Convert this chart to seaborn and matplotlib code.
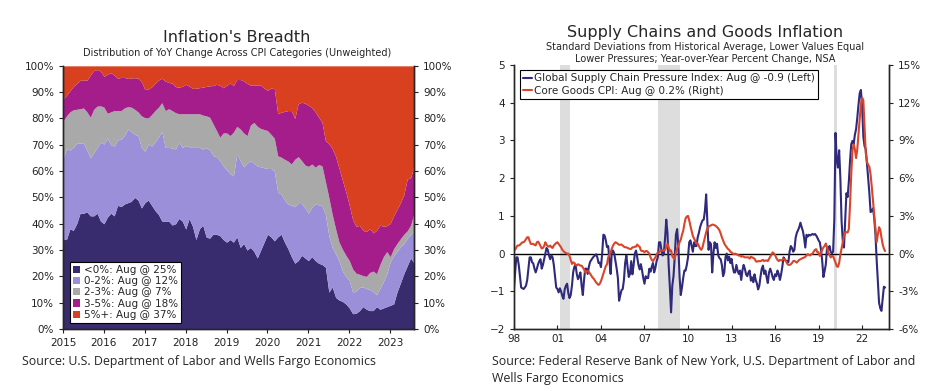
import numpy as np
import pandas as pd
import seaborn as sns
import matplotlib.pyplot as plt
from matplotlib.patches import Patch
from matplotlib.lines import Line2D
from matplotlib.ticker import FuncFormatter

# ---- Inflation's Breadth: cumulative share of CPI categories (Jan 2015 - Aug 2023)
pct_below_0 = [
    34, 34, 38, 37.5, 40, 44, 44, 44.5, 43, 43, 44, 41,
    40, 42.5, 44, 43, 47, 46.5, 47.5, 48, 48.5, 50, 49, 46,
    48, 49, 47, 45, 43.5, 41, 41, 41, 39.5, 40, 42, 41,
    38, 42, 39, 34, 38, 39.5, 35, 34.5, 36, 36, 35.5, 34,
    33, 34, 33, 35, 31, 32.5, 30, 31, 29.5, 27, 30, 33,
    36, 35, 33.5, 35, 36, 33, 30.5, 27.5, 25, 26, 28, 27,
    26, 27.5, 26, 25, 24.5, 23.5, 14, 16, 12, 11, 10.5, 9.5,
    8, 5.8, 6, 7, 8.5, 7.5, 7, 7, 8.5, 7.5, 8, 8.5,
    9, 9.5, 14, 17.5, 21, 24, 27, 25,
]
pct_below_2 = [
    65, 68.4, 68, 69, 70.6, 70.6, 70.6, 68, 65, 67, 69, 71,
    70.3, 72.5, 70, 69.5, 71.8, 72.2, 73.5, 76, 75, 74, 73.5, 69,
    67.5, 70.3, 69.5, 71, 73, 75, 69, 69, 68.8, 68.4, 71, 69,
    69.7, 69.3, 69, 69, 69, 68.4, 68.8, 68.2, 65.9, 65.5, 64, 62,
    60.5, 59, 58.2, 66.5, 64, 61.6, 63, 64, 63, 62, 61.6, 61.3,
    61, 61, 60, 52, 51.3, 49, 47.5, 47, 46.5, 47.7, 47.7, 46,
    44, 46.3, 47.5, 47.2, 46.8, 43.5, 35.5, 31, 28.5, 25.8, 22, 20,
    18.4, 14, 14.5, 15.8, 16, 15.4, 15, 14.2, 13, 15.5, 18, 21,
    25.5, 27.8, 29.5, 31.2, 32.5, 34.5, 36, 37,
]
pct_below_3 = [
    79, 81, 82.5, 83.3, 83.5, 83.7, 84, 82.5, 80.5, 83.5, 84.7, 84.8,
    84.3, 82, 82.5, 83, 83, 83, 84, 84.5, 84.3, 83.5, 82.5, 81,
    80.3, 80.2, 81.5, 83, 84.3, 86, 83, 83.7, 83, 82.2, 81.8, 81.8,
    81.8, 81.8, 81.8, 81.8, 81.8, 81.3, 81, 80.5, 78, 75.5, 72.9, 74.5,
    74.5, 73.5, 74.8, 77, 76, 74.5, 73.5, 77.5, 78.5, 77, 76.2, 75.8,
    75.4, 74, 72.5, 65.8, 65.3, 64.5, 63.8, 62.7, 64.5, 65.5, 64, 62.3,
    61.8, 62.7, 61.5, 62.5, 62, 56, 50, 43.5, 38, 33, 30.3, 28,
    26, 22.8, 21.2, 20.8, 20.3, 20, 21.5, 22, 21, 24.5, 27.5, 29.4,
    27.5, 30.5, 32.5, 34.3, 36, 37.3, 39.5, 44,
]
pct_below_5 = [
    87.5, 88.8, 90.5, 92.2, 93.3, 94.5, 94.7, 94.5, 96.5, 98.2, 98.6, 98,
    96, 96.8, 97.4, 96.5, 95.3, 95.6, 95.6, 95.2, 95.4, 95.5, 95.3, 94,
    91, 91.2, 92, 93.4, 94.6, 95.3, 94.2, 93.7, 93.4, 92.1, 91.9, 92.2,
    93, 92.3, 91.4, 91.5, 91.7, 91.9, 92.2, 92.4, 92.5, 93, 92.6, 91.7,
    92.6, 93.5, 92.5, 94.8, 94.8, 94.3, 93.3, 92.7, 92.6, 92.8, 92.6, 91.5,
    90.7, 91.6, 91.3, 81.8, 82.4, 82.7, 83, 83, 80, 85.6, 86.2, 85.8,
    85, 84.2, 82.5, 80.5, 78.5, 71.5, 70.5, 68.5, 65.5, 61, 56.5, 52,
    47, 41.5, 39, 39.4, 37.5, 37, 38.2, 36.5, 37.5, 39.5, 39, 39.3,
    40.1, 43, 45.5, 48, 51, 57, 57.5, 62,
]
breadth_labels = ['<0%: Aug @ 25%', '0-2%: Aug @ 12%', '2-3%: Aug @ 7%',
                  '3-5%: Aug @ 18%', '5%+: Aug @ 37%']

# ---- Supply chains: monthly, Jan 1998 - Aug 2023
gscpi = [
    -0.95, -0.5, -0.1, -0.1, -0.3, -0.6, -0.9, -0.92, -0.94, -0.9, -0.85, -0.7,
    -0.4, -0.1, -0.1, -0.23, -0.26, -0.4, -0.5, -0.4, -0.28, -0.2, -0.15, -0.4,
    -0.3, -0.15, 0.0, 0.15, 0.1, -0.05, -0.15, -0.05, -0.1, -0.3, -0.6, -0.9,
    -0.94, -1.03, -0.92, -1.0, -1.12, -1.2, -0.95, -0.85, -0.8, -1.05, -1.18, -1.1,
    -0.85, -0.5, -0.35, -0.3, -0.54, -0.68, -0.6, -0.5, -0.85, -1.1, -0.7, -0.4,
    -0.4, -0.54, -0.35, -0.22, -0.17, -0.12, -0.08, -0.05, -0.02, -0.1, -0.25, -0.24,
    -0.36, 0.0, 0.5, 0.48, 0.35, 0.17, 0.2, -0.19, -0.54, 0.08, 0.08, 0.0,
    -0.2, -0.4, -0.65, -1.25, -1.1, -0.97, -0.94, -0.7, -0.25, -0.05, -0.35, -0.62,
    -0.54, -0.2, -0.55, -0.3, 0.0, 0.08, -0.1, -0.3, -0.42, -0.28, -0.45, -0.65,
    -0.8, -0.6, -0.65, -0.65, -0.4, -0.48, -0.35, -0.25, -0.5, -0.38, -0.2, -0.1,
    0.3, 0.3, 0.1, -0.05, 0.0, 0.4, 0.9, 0.55, -0.3, -0.9, -1.56, -0.85,
    -0.6, -0.1, 0.5, 0.65, 0.2, -0.6, -1.1, -0.9, -0.65, -0.45, -0.45, -0.3,
    -0.1, 0.3, 0.35, 0.2, 0.05, 0.3, 0.2, 0.2, 0.43, 0.55, 0.7, 0.8,
    0.88, 0.9, 1.14, 1.57, 0.8, 0.1, 0.3, 0.25, -0.5, 0.0, 0.3, 0.15,
    0.26, -0.05, -0.12, -0.15, -0.3, -0.6, -0.5, -0.1, 0.0, -0.18, -0.08, -0.25,
    -0.14, -0.35, -0.5, -0.5, -0.3, -0.45, -0.54, -0.45, -0.7, -0.45, -0.3, -0.4,
    -0.55, -0.6, -0.5, -0.45, -0.72, -0.63, -0.76, -0.55, -0.7, -0.8, -0.95, -0.85,
    -0.6, -0.4, -0.32, -0.54, -0.45, -0.63, -0.78, -0.5, -0.4, -0.5, -0.63, -0.7,
    -0.55, -0.6, -0.45, -0.54, -0.7, -0.55, -0.35, -0.1, -0.15, -0.19, -0.2, -0.23,
    0.05, 0.2, 0.15, 0.05, 0.1, 0.42, 0.55, 0.62, 0.7, 0.82, 0.7, 0.6,
    0.42, 0.16, 0.5, 0.45, 0.5, 0.48, 0.5, 0.52, 0.5, 0.52, 0.48, 0.42,
    0.35, 0.3, 0.1, -0.2, -0.62, -0.46, -0.28, 0.16, 0.1, 0.2, 0.05, 0.0,
    0.05, 0.9, 3.2, 2.5, 2.28, 2.74, 2.0, 0.87, 0.34, 0.16, 0.9, 1.6,
    1.5, 1.9, 2.45, 2.9, 2.99, 2.9, 3.15, 3.3, 3.6, 3.95, 4.25, 4.34,
    3.9, 3.1, 2.85, 2.77, 2.4, 2.0, 1.6, 1.1, 1.13, 1.2, 0.95, 0.52,
    -0.15, -0.75, -1.3, -1.45, -1.52, -1.2, -0.88, -0.9,
]
core_goods = [
    0.37, 0.3, 0.5, 0.64, 0.64, 0.7, 0.8, 0.9, 0.9, 1.0, 1.15, 1.3,
    1.3, 1.0, 0.77, 0.77, 0.77, 0.7, 0.65, 0.9, 0.95, 0.8, 0.6, 0.4,
    0.45, 0.6, 0.9, 0.7, 0.6, 0.55, 0.64, 0.5, 0.45, 0.64, 0.75, 0.85,
    0.9, 0.77, 0.64, 0.5, 0.3, 0.2, 0.1, 0.05, 0.0, 0.0, -0.2, -0.5,
    -0.82, -0.7, -0.75, -0.9, -0.95, -0.85, -0.9, -0.96, -0.96, -1.1, -1.25, -1.5,
    -1.4, -1.4, -1.45, -1.6, -1.75, -1.9, -2.0, -2.15, -2.3, -2.4, -2.5, -2.4,
    -2.2, -1.9, -1.6, -1.3, -1.0, -0.85, -0.3, -0.1, 0.1, 0.4, 0.64, 0.8,
    0.9, 0.85, 0.77, 0.7, 0.7, 0.72, 0.64, 0.55, 0.5, 0.5, 0.45, 0.4,
    0.37, 0.37, 0.5, 0.5, 0.55, 0.55, 0.72, 0.6, 0.55, 0.25, 0.2, 0.2,
    0.1, 0.2, 0.2, 0.1, 0.0, -0.3, -0.5, -0.6, -0.45, -0.3, -0.1, 0.1,
    0.1, 0.2, 0.25, 0.25, 0.22, 0.3, 0.5, 0.77, 0.5, 0.2, 0.25, -0.2,
    -0.35, -0.42, 0.1, 0.4, 0.6, 0.9, 1.1, 1.5, 1.8, 2.36, 2.8, 2.95,
    3.0, 2.65, 2.2, 1.8, 1.4, 1.2, 1.0, 0.8, 0.8, 0.6, 0.4, 0.3,
    0.5, 0.9, 1.3, 1.7, 2.0, 2.15, 2.2, 2.25, 2.3, 2.3, 2.25, 2.2,
    2.1, 2.0, 1.85, 1.6, 1.3, 1.05, 0.8, 0.64, 0.5, 0.37, 0.3, 0.15,
    0.1, 0.0, -0.05, 0.0, -0.05, -0.1, -0.16, -0.16, -0.25, -0.2, -0.25, -0.3,
    -0.3, -0.3, -0.3, -0.4, -0.25, -0.3, -0.35, -0.4, -0.6, -0.65, -0.6, -0.6,
    -0.6, -0.55, -0.5, -0.6, -0.55, -0.55, -0.6, -0.42, -0.25, -0.1, 0.1, 0.0,
    -0.1, -0.35, -0.5, -0.6, -0.5, -0.55, -0.5, -0.4, -0.5, -0.6, -0.8, -0.9,
    -0.9, -0.85, -0.75, -0.6, -0.58, -0.65, -0.72, -0.6, -0.5, -0.45, -0.4, -0.35,
    -0.32, -0.25, -0.15, -0.05, -0.1, -0.15, -0.05, 0.0, 0.16, 0.3, 0.35, 0.1,
    0.1, -0.19, 0.05, 0.3, 0.5, 0.6, 0.8, 0.5, 0.1, -0.1, -0.3, -0.2,
    -0.2, -0.45, -0.72, -1.0, -1.06, -0.75, -0.1, 0.4, 0.9, 1.4, 1.7, 1.7,
    1.67, 1.94, 3.9, 6.3, 8.2, 8.7, 8.3, 7.6, 8.3, 9.5, 10.7, 11.9,
    12.4, 12.2, 10.0, 8.0, 7.3, 7.06, 6.9, 6.3, 5.3, 4.2, 3.1, 2.1,
    0.9, 1.5, 2.1, 1.9, 1.27, 0.74, 0.4, 0.2,
]
recessions = [(2001.17, 2001.84), (2007.95, 2009.43), (2020.07, 2020.25)]
supply_labels = ['Global Supply Chain Pressure Index: Aug @ -0.9 (Left)',
                 'Core Goods CPI: Aug @ 0.2% (Right)']

c_dark, c_light, c_gray, c_mag, c_red = '#392c6e', '#9c8fd9', '#a9a9a9', '#a51d8a', '#d8401f'
c_line_blue, c_line_red = '#2f2a7c', '#d9452a'

sns.set_style('ticks')
plt.rcParams['font.family'] = ['DejaVu Sans']
plt.rcParams['axes.linewidth'] = 1.0

fig = plt.figure(figsize=(9.31, 3.91), dpi=100)

# ---------------- left chart
ax1 = fig.add_axes([0.0677, 0.1586, 0.377, 0.673])
x_left = 2015 + np.arange(len(pct_below_0)) / 12
b0, b2, b3, b5 = (np.array(v) for v in (pct_below_0, pct_below_2, pct_below_3, pct_below_5))
layers = [(0 * b0, b0), (b0, b2), (b2, b3), (b3, b5), (b5, 100 + 0 * b5)]
cols = [c_dark, c_light, c_gray, c_mag, c_red]
for (lo, hi), c in zip(layers, cols):
    ax1.fill_between(x_left, lo, hi, color=c, lw=0)
ax1.set_xlim(2015, x_left[-1])
ax1.set_ylim(0, 100)
ax1.set_xticks(range(2015, 2024))
ax1.set_yticks(range(0, 101, 10))
pct_fmt = FuncFormatter(lambda v, p: f'{v:.0f}%')
ax1.yaxis.set_major_formatter(pct_fmt)
ax1.tick_params(labelsize=7.5, length=3, colors='#222222')
ax1r = ax1.twinx()
ax1r.set_ylim(0, 100)
ax1r.set_yticks(range(0, 101, 10))
ax1r.yaxis.set_major_formatter(pct_fmt)
ax1r.tick_params(labelsize=7.5, length=3, colors='#222222')
for a in (ax1, ax1r):
    a.spines['top'].set_visible(False)
handles = [Patch(facecolor=c, edgecolor='none') for c in cols]
leg = ax1.legend(handles, breadth_labels, loc='lower left', bbox_to_anchor=(0.02, 0.023),
                 fontsize=7.5, frameon=True, fancybox=False, edgecolor='black', framealpha=1,
                 handlelength=0.7, handleheight=0.7, handletextpad=0.3, labelspacing=0.12,
                 borderpad=0.3, borderaxespad=0)
leg.get_frame().set_linewidth(0.8)

# ---------------- right chart
ax2 = fig.add_axes([0.552, 0.1586, 0.403, 0.675])
x_right = 1998 + np.arange(len(gscpi)) / 12
df = pd.DataFrame({'date': x_right, 'gscpi': gscpi, 'core': core_goods})
for s, e in recessions:
    ax2.axvspan(s, e, color='#dddddd', lw=0, zorder=0)
ax2.axhline(0, color='black', lw=1)
sns.lineplot(data=df, x='date', y='gscpi', ax=ax2, color=c_line_blue, lw=1.5)
ax2.set_xlim(1998, 2023.86)
ax2.set_ylim(-2, 5)
ax2.set_xticks(range(1998, 2023, 3))
ax2.set_xticklabels([f'{y % 100:02d}' for y in range(1998, 2023, 3)])
ax2.set_xlabel('')
ax2.set_ylabel('')
ax2.tick_params(labelsize=7.5, length=3, colors='#222222')
ax2.tick_params(axis='x', direction='in')
ax2r = ax2.twinx()
sns.lineplot(data=df, x='date', y='core', ax=ax2r, color=c_line_red, lw=1.5)
ax2r.set_ylim(-6, 15)
ax2r.set_yticks(range(-6, 16, 3))
ax2r.yaxis.set_major_formatter(pct_fmt)
ax2r.set_ylabel('')
ax2r.tick_params(labelsize=7.5, length=3, colors='#222222')
for a in (ax2, ax2r):
    a.spines['top'].set_visible(False)
lh = [Line2D([], [], color=c_line_blue, lw=1.5), Line2D([], [], color=c_line_red, lw=1.5)]
leg2 = ax2r.legend(lh, supply_labels, loc='upper left', bbox_to_anchor=(0.016, 0.981),
                   fontsize=7.5, frameon=True, fancybox=False, edgecolor='black', framealpha=1,
                   handlelength=0.9, handletextpad=0.15, labelspacing=0.25,
                   borderpad=0.3, borderaxespad=0)
leg2.get_frame().set_linewidth(0.8)

# ---------------- titles and sources
fig.text(0.2546, 0.903, "Inflation's Breadth", ha='center', va='center', fontsize=11.5)
fig.text(0.2546, 0.864, 'Distribution of YoY Change Across CPI Categories (Unweighted)',
         ha='center', va='center', fontsize=7)
fig.text(0.757, 0.918, 'Supply Chains and Goods Inflation', ha='center', va='center', fontsize=11.5)
fig.text(0.757, 0.881, 'Standard Deviations from Historical Average, Lower Values Equal',
         ha='center', va='center', fontsize=7)
fig.text(0.757, 0.850, 'Lower Pressures; Year-over-Year Percent Change, NSA',
         ha='center', va='center', fontsize=7)
fig.text(0.0236, 0.075, 'Source: U.S. Department of Labor and Wells Fargo Economics',
         ha='left', va='center', fontsize=8.95, family=['Open Sans'])
fig.text(0.528, 0.075, 'Source: Federal Reserve Bank of New York, U.S. Department of Labor and',
         ha='left', va='center', fontsize=8.95, family=['Open Sans'])
fig.text(0.528, 0.031, 'Wells Fargo Economics', ha='left', va='center', fontsize=8.95,
         family=['Open Sans'])

fig.savefig('out.png', dpi=100)
